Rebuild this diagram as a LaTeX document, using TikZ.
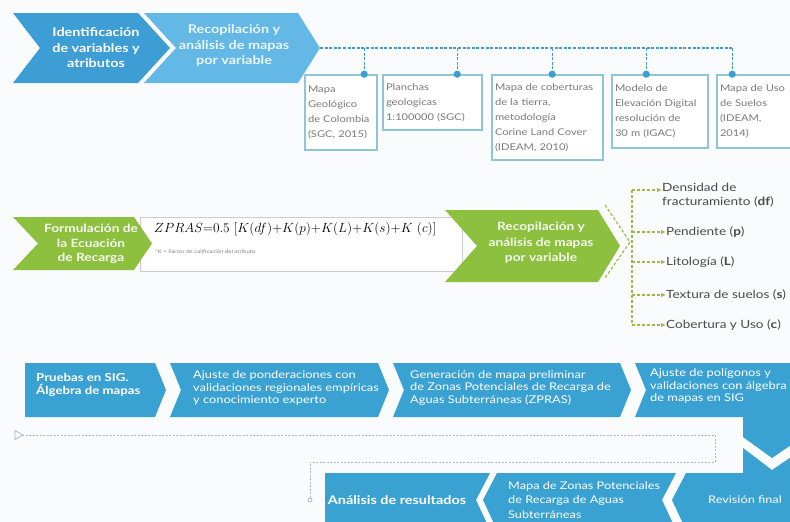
\documentclass[tikz,border=0pt]{standalone}
\usepackage{graphicx}
\usepackage{fontspec}
\setmainfont{Lato}[FakeStretch=1.2]
\usetikzlibrary{arrows.meta,calc}
\hyphenpenalty=10000
\exhyphenpenalty=10000
\definecolor{bdark}{HTML}{3C9ED5}
\definecolor{blight}{HTML}{63B8E5}
\definecolor{bbot}{HTML}{3AA2D3}
\definecolor{gch}{HTML}{8DC03F}
\definecolor{gdash}{HTML}{9CBB45}
\definecolor{boxline}{HTML}{8EC6D6}
\definecolor{boxtxt}{HTML}{7A7A7A}
\definecolor{bg}{HTML}{FAFBFC}
\definecolor{loopc}{HTML}{AEB6CC}
\definecolor{itemtxt}{HTML}{4A4A4A}
\begin{document}
\begin{tikzpicture}[x=1pt,y=-1pt,
  chtxt/.style={align=center,text=white,font=\bfseries\fontsize{12}{15.5}\selectfont,inner sep=0pt},
  btxt/.style={align=left,anchor=west,text=white,font=\fontsize{10.7}{12.8}\selectfont,inner sep=0pt},
  mapbox/.style={draw=boxline,line width=1.6pt,fill=white,align=left,text=boxtxt,
    font=\fontsize{9.3}{15}\selectfont,inner xsep=3pt,inner ysep=2pt},
  topdash/.style={draw=bdark,line width=1.3pt,dash pattern=on 3pt off 1.6pt},
  topdot/.style={fill=bdark},
  gline/.style={draw=gdash,line width=1.2pt,dash pattern=on 3pt off 2pt},
  garrow/.style={gline,-{Latex[length=5pt,width=4.5pt]}},
  item/.style={anchor=west,align=left,text=itemtxt,font=\fontsize{11.3}{14.5}\selectfont,inner sep=0pt},
  loopdash/.style={draw=loopc,line width=0.8pt,dash pattern=on 2pt off 1.5pt}
]
\useasboundingbox (0,0) rectangle (790,522);
\clip (0,0) rectangle (790,522);
\fill[bg] (0,0) rectangle (790,522);

% ---------- top row ----------
\fill[bdark] (13,13) -- (138,13) -- (170,48) -- (138,83) -- (13,83) -- (40,48) -- cycle;
\fill[blight] (144,13) -- (298,13) -- (320,48) -- (298,83) -- (144,83) -- (176,48) -- cycle;
\node[chtxt] (ident) at (96,48) {Identificación\\de variables y\\atributos};
\node[chtxt,text=white!88!blight] (recA) at (234,46) {Recopilación y\\análisis de mapas\\por variable};
\coordinate (recAtip) at (320,48);

\node[mapbox,text width=66pt,minimum height=75pt] (m1) at (341,112.5) {Mapa\\Geológico\\de Colombia\\(SGC, 2015)};
\node[mapbox,text width=93pt,minimum height=55pt] (m2) at (432.5,102.5) {Planchas\\geologicas\\1:100000 (SGC)};
\node[mapbox,text width=105pt,minimum height=85pt] (m3) at (547.5,117.5) {Mapa de coberturas\\de la tierra,\\metodología\\Corine Land Cover\\(IDEAM, 2010)};
\node[mapbox,text width=90pt,minimum height=73pt] (m4) at (660,111.5) {Modelo de\\Elevación Digital\\resolución de\\30 m (IGAC)};
\node[mapbox,text width=82pt,minimum height=73pt] (m5) at (761,111.5) {Mapa de Uso\\de Suelos\\(IDEAM,\\2014)};

\coordinate (d1) at ($(m1.north west)+(60,0)$);
\coordinate (d2) at ($(m2.north west)+(75,0)$);
\coordinate (d3) at ($(m3.north west)+(61,0)$);
\coordinate (d4) at ($(m4.north west)+(35,0)$);
\coordinate (d5) at ($(m5.north west)+(16,0)$);
\draw[topdash] (recAtip) -- (d5 |- recAtip);
\foreach \d in {d1,d2,d3,d4,d5}{
  \draw[topdash] (\d |- recAtip) -- (\d);
  \fill[topdot] (\d) circle (3.6pt);
}

% ---------- middle row ----------
\node[draw=gray!40,fill=white,line width=0.8pt,minimum width=322pt,minimum height=54pt,inner sep=0pt] (fbox) at (301,244) {};
\fill[gch] (13,217) -- (134,217) -- (152,243.5) -- (134,270) -- (13,270) -- (38,243.5) -- cycle;
\node[chtxt,text=white!92!gch,font=\bfseries\fontsize{11.4}{14.5}\selectfont] (formu) at (91,244) {Formulación de\\la Ecuación\\de Recarga};
\node[anchor=west,inner sep=0pt,font=\fontsize{12}{14}\selectfont] (eq) at (154,229)
  {\scalebox{1.11}{$ZPRAS{=}0.5\ [K(df){+}K(p){+}K(L){+}K(s){+}K\ (c)]$}};
\node[anchor=west,inner sep=0pt,text=gray,font=\fontsize{5}{6}\selectfont] (eqnote) at (155,252) {*K = Factor de calificación del atributo};
\fill[gch] (445,210) -- (598,210) -- (620,246) -- (598,282) -- (445,282) -- (477,246) -- cycle;
\node[chtxt,text=white!92!gch,font=\bfseries\fontsize{11.4}{15.5}\selectfont] (recB) at (541,243) {Recopilación y\\análisis de mapas\\por variable};

\coordinate (g1) at (605,205);
\coordinate (g2) at (630,242);
\coordinate (g3) at (605,278);
\draw[gline] (g1) -- (g2) -- (g3);

\node[item] (df) at (662,195) {Densidad de\\fracturamiento (\textbf{df})};
\node[item] (pp) at (666,232) {Pendiente (\textbf{p})};
\node[item] (ll) at (666,262) {Litología (\textbf{L})};
\node[item] (ss) at (666,295) {Textura de suelos (\textbf{s})};
\node[item] (cc) at (666,325) {Cobertura y Uso (\textbf{c})};
\coordinate (v1) at (632,190);
\coordinate (v5) at (632,325);
\draw[gline] (v1) -- (v5);
\draw[garrow] (v1) -- (v1 -| df.west);
\draw[garrow] (v1 |- pp.west) -- (pp.west);
\draw[garrow] (v1 |- ll.west) -- (ll.west);
\draw[garrow] (v1 |- ss.west) -- (ss.west);
\draw[garrow] (v1 |- cc.west) -- (cc.west);

% ---------- bottom rows ----------
\fill[bbot] (25,363) -- (155,363) -- (166,390) -- (155,417) -- (25,417) -- cycle;
\fill[bbot] (170,363) -- (378,363) -- (389,390) -- (378,417) -- (170,417) -- (181,390) -- cycle;
\fill[bbot] (393,363) -- (620,363) -- (631,390) -- (620,417) -- (393,417) -- (404,390) -- cycle;
\fill[bbot] (635,363) -- (800,363) -- (800,439) -- (772,458) -- (743,437) -- (743,417) -- (635,417) -- (646,390) -- cycle;
\fill[bbot] (686,473) -- (743,473) -- (743,448) -- (772,470) -- (800,451) -- (800,530) -- (686,530) -- (672,500) -- cycle;
\fill[bbot] (497,473) -- (676,473) -- (662,500) -- (676,530) -- (497,530) -- (483,500) -- cycle;
\fill[bbot] (325,473) -- (490,473) -- (476,500) -- (490,530) -- (325,530) -- cycle;

\node[btxt,font=\bfseries\fontsize{11}{13}\selectfont] (pru) at (36,385) {Pruebas en SIG.\\Álgebra de mapas};
\node[btxt] (aju) at (193,388) {Ajuste de ponderaciones con\\validaciones regionales empíricas\\y conocimiento experto};
\node[btxt] (gen) at (410,388) {Generación de mapa preliminar\\de Zonas Potenciales de Recarga de\\Aguas Subterráneas (ZPRAS)};
\node[btxt] (pol) at (650,386) {Ajuste de polígonos y\\validaciones con álgebra\\de mapas en SIG};
\node[chtxt,font=\fontsize{10.6}{13}\selectfont] (rev) at (745,500) {Revisión final};
\node[btxt,font=\fontsize{10.6}{14.5}\selectfont] (mapz) at (508,500) {Mapa de Zonas Potenciales\\de Recarga de Aguas\\Subterráneas};
\node[chtxt,font=\bfseries\fontsize{12}{13}\selectfont] (ana) at (397,500) {Análisis de resultados};

% loop connector
\coordinate (lstart) at (23,435);
\coordinate (lr) at (715,435);
\coordinate (lr2) at (715,462);
\coordinate (ll2) at (310,462);
\node[draw=loopc,line width=0.8pt,circle,minimum size=4pt,inner sep=0pt] (lend) at (310,500) {};
\draw[loopdash] (lend) -- (ll2) -- (lr2) -- (lr) -- (lstart);
\draw[draw=loopc,line width=0.8pt] (15,430.5) -- (lstart) -- (15,439.5) -- cycle;
\end{tikzpicture}
\end{document}
